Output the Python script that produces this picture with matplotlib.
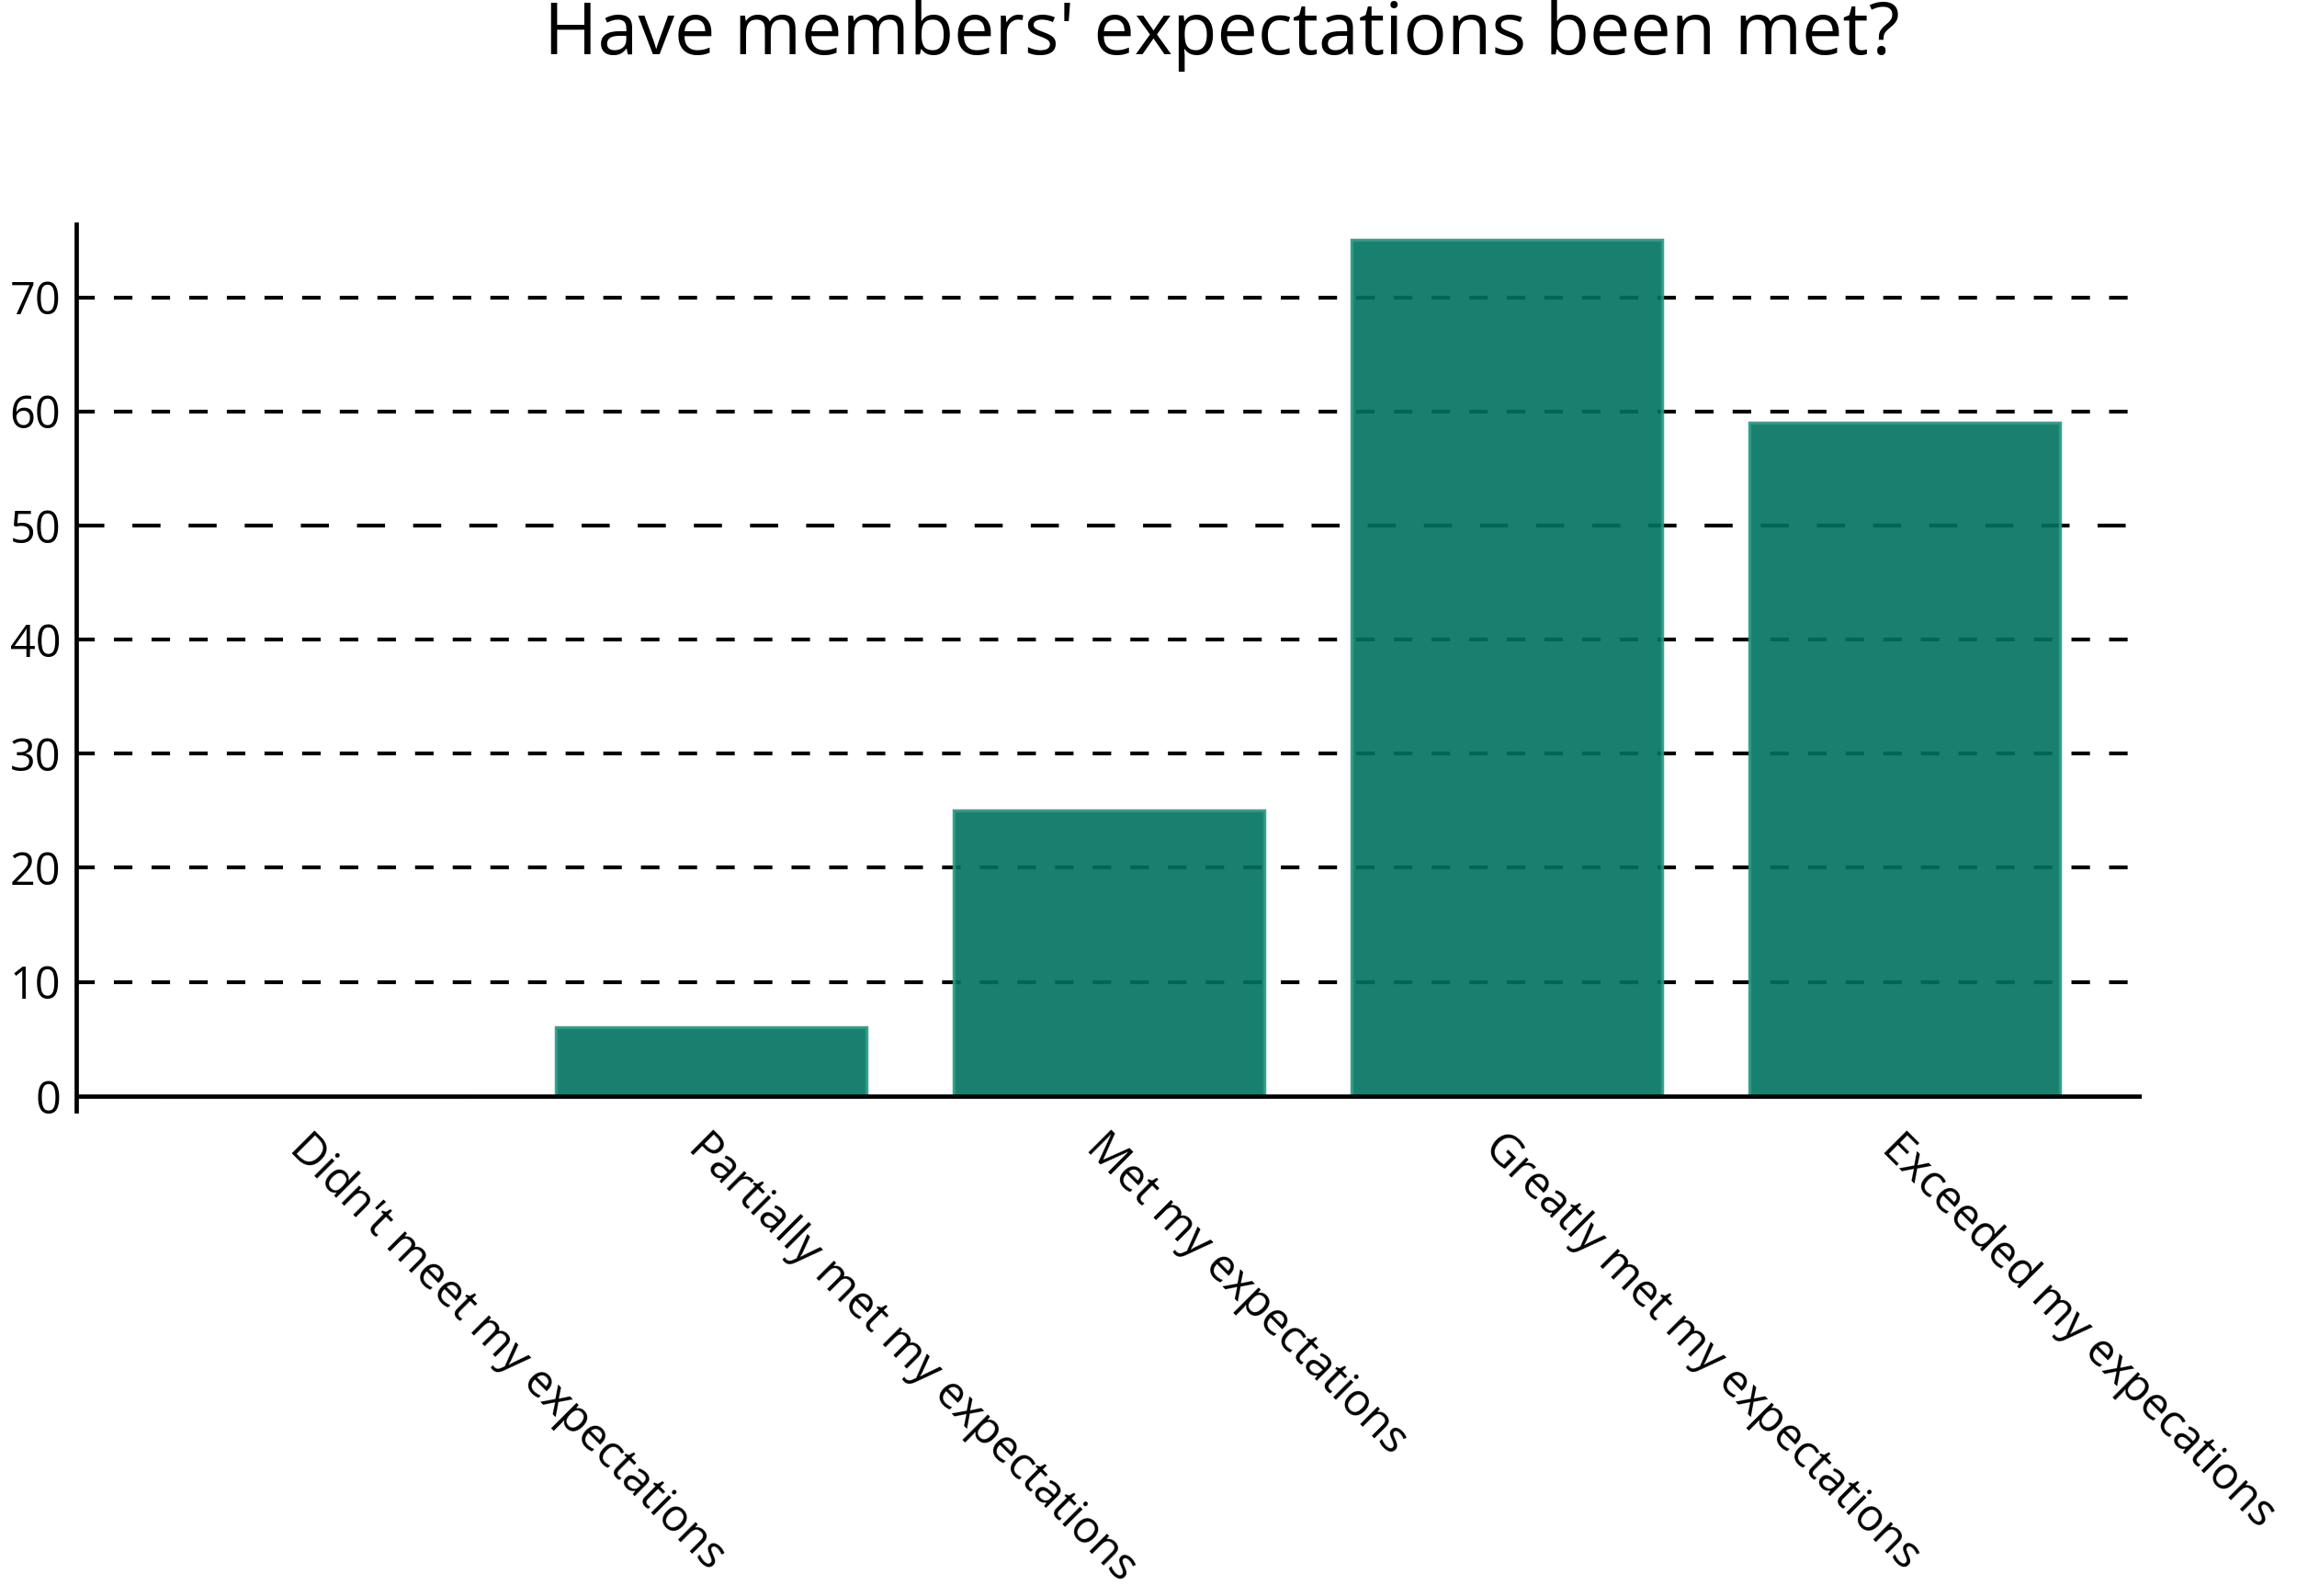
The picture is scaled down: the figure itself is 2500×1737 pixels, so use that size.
import matplotlib
matplotlib.use("Agg")
import matplotlib.pyplot as plt

categories = ["Didn't meet my expectations", "Partially met my expectations",
              "Met my expectations", "Greatly met my expectations",
              "Exceeded my expecations"]
values = [0, 6, 25, 75, 59]
yticks = [0, 10, 20, 30, 40, 50, 60, 70]
title = "Have members' expectations been met?"

plt.rcParams['font.family'] = ['Open Sans', 'DejaVu Sans']
plt.rcParams['lines.scale_dashes'] = False

fig = plt.figure(figsize=(25, 17.37), dpi=100)
ax = fig.add_axes([0.0332, 0.304, 0.8992, 0.5555])

x = list(range(len(categories)))
ax.bar(x, values, width=0.78, color='#00725f', alpha=0.9,
       edgecolor='#2a9a86', linewidth=2.5, zorder=3)

for t in yticks[1:]:
    if t == 50:
        ls = (0, (22, 22))
    else:
        ls = (0, (14.5, 15))
    ax.axhline(t, color='black', linewidth=3.0, linestyle=ls, zorder=2)
ax.axhline(0, color='black', linewidth=3.4, zorder=4)

ax.set_xlim(-0.595, 4.595)
ax.set_ylim(-1.3, 76.4)
ax.set_yticks(yticks)
ax.set_yticklabels([str(t) for t in yticks], fontsize=35)
ax.tick_params(axis='y', length=0, pad=12)
ax.tick_params(axis='x', length=0, pad=11)
ax.set_xticks(x)
ax.set_xticklabels(categories, rotation=-45, ha='left', va='top',
                   rotation_mode='anchor', fontsize=35)
for s in ['top', 'right', 'bottom']:
    ax.spines[s].set_visible(False)
ax.spines['left'].set_linewidth(3.4)

fig.text(0.532, 0.978, title, ha='center', va='center', fontsize=57)

fig.savefig("out.png", dpi=100, facecolor='white')
